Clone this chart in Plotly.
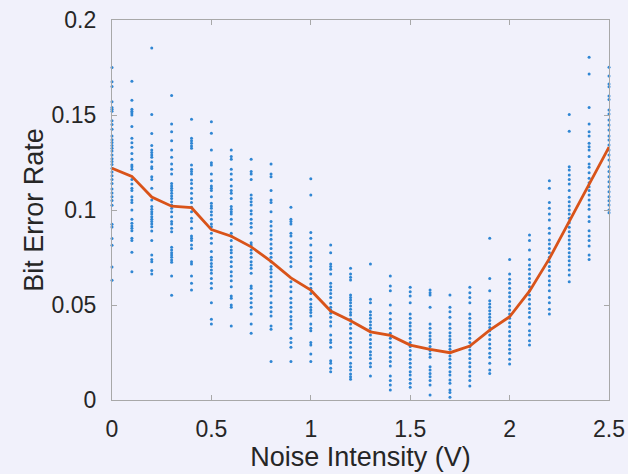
import plotly.graph_objects as go

# Noise levels (V) where the bit error rate was measured
noise_levels = [0.0, 0.1, 0.2, 0.3, 0.4, 0.5, 0.6, 0.7, 0.8, 0.9, 1.0, 1.1, 1.2,
                1.3, 1.4, 1.5, 1.6, 1.7, 1.8, 1.9, 2.0, 2.1, 2.2, 2.3, 2.4, 2.5]

# Individual trial BER values, one list per noise level
ber_00 = [0.175, 0.1675, 0.165, 0.157, 0.154, 0.153, 0.152, 0.147, 0.145, 0.1425, 0.139, 0.137,
          0.1355, 0.134, 0.1325, 0.131, 0.129, 0.127, 0.1255, 0.124, 0.122, 0.120, 0.118, 0.116,
          0.114, 0.111, 0.109, 0.107, 0.105, 0.1025, 0.0925, 0.091, 0.085, 0.0815, 0.070, 0.063]
ber_01 = [0.1677, 0.1577, 0.153, 0.152, 0.151, 0.150, 0.1439, 0.1377, 0.1354, 0.133, 0.1298,
          0.1267, 0.1237, 0.1228, 0.1214, 0.1161, 0.1137, 0.1114, 0.1102, 0.107, 0.1053, 0.1039,
          0.100, 0.0951, 0.093, 0.0916, 0.0904, 0.0891, 0.0851, 0.0839, 0.0777, 0.0675]
ber_02 = [0.1853, 0.1502, 0.1402, 0.1339, 0.1316, 0.1302, 0.1289, 0.1277, 0.1254, 0.1228, 0.1219,
          0.1175, 0.1161, 0.1114, 0.1053, 0.1018, 0.1004, 0.0991, 0.0979, 0.0965, 0.0951, 0.0939,
          0.0926, 0.0912, 0.0889, 0.0839, 0.0763, 0.074, 0.0728, 0.0681, 0.0663]
ber_03 = [0.1602, 0.1453, 0.1412, 0.1365, 0.1316, 0.1277, 0.1242, 0.1214, 0.1189, 0.114, 0.1126,
          0.1114, 0.1102, 0.1088, 0.1074, 0.1061, 0.1044, 0.1026, 0.1009, 0.0991, 0.0965, 0.0939,
          0.0926, 0.0904, 0.0886, 0.0804, 0.0789, 0.0775, 0.0763, 0.0751, 0.0737, 0.0725, 0.0653,
          0.0551]
ber_04 = [0.1477, 0.1377, 0.1365, 0.1351, 0.1337, 0.1325, 0.1237, 0.1214, 0.1202, 0.1189, 0.1158,
          0.114, 0.1114, 0.1088, 0.1061, 0.1039, 0.1014, 0.0991, 0.0956, 0.0939, 0.0904, 0.0863,
          0.0851, 0.0839, 0.0816, 0.0798, 0.0728, 0.0716, 0.0653, 0.0614, 0.0579]
ber_05 = [0.1465, 0.1404, 0.1316, 0.1249, 0.1237, 0.1189, 0.1154, 0.1126, 0.1114, 0.1102, 0.107,
          0.1035, 0.1021, 0.1009, 0.0991, 0.0974, 0.0951, 0.0926, 0.0912, 0.0877, 0.0851, 0.0825,
          0.0781, 0.0751, 0.0737, 0.0719, 0.0702, 0.0684, 0.0667, 0.064, 0.0614, 0.0588, 0.0512,
          0.0425, 0.040]
ber_06 = [0.1316, 0.1281, 0.1267, 0.1214, 0.1189, 0.1161, 0.1126, 0.1102, 0.1088, 0.1061, 0.1018,
          0.1004, 0.0991, 0.0979, 0.0951, 0.0926, 0.0877, 0.0863, 0.0839, 0.0807, 0.0789, 0.0775,
          0.0751, 0.0728, 0.0702, 0.0675, 0.0653, 0.0628, 0.0596, 0.0547, 0.0535, 0.050, 0.0488,
          0.0389]
ber_07 = [0.1267, 0.1202, 0.1189, 0.1161, 0.1079, 0.1061, 0.1044, 0.1026, 0.0996, 0.0979, 0.0951,
          0.093, 0.0909, 0.0877, 0.0828, 0.0816, 0.0789, 0.0772, 0.0751, 0.0728, 0.0711, 0.0693,
          0.0667, 0.060, 0.0588, 0.0561, 0.0535, 0.0512, 0.0488, 0.0453, 0.040, 0.0351]
ber_08 = [0.1242, 0.1189, 0.1175, 0.1102, 0.1053, 0.1039, 0.0991, 0.0939, 0.0916, 0.0891, 0.0868,
          0.0846, 0.0821, 0.0798, 0.0772, 0.0751, 0.0728, 0.0702, 0.0688, 0.067, 0.0649, 0.0623,
          0.060, 0.0575, 0.0547, 0.0512, 0.0488, 0.0465, 0.0442, 0.0389, 0.0372, 0.0202]
ber_09 = [0.1014, 0.0951, 0.0939, 0.0926, 0.0877, 0.0863, 0.0828, 0.0804, 0.0775, 0.0751, 0.0728,
          0.0702, 0.0623, 0.0596, 0.057, 0.0535, 0.0512, 0.0488, 0.0465, 0.0439, 0.0421, 0.040,
          0.0377, 0.0325, 0.0302, 0.0277, 0.0202]
ber_10 = [0.1165, 0.1079, 0.0881, 0.0851, 0.0816, 0.0775, 0.0751, 0.0733, 0.0702, 0.0663, 0.064,
          0.0611, 0.0588, 0.0561, 0.053, 0.0505, 0.0488, 0.0474, 0.046, 0.0442, 0.040, 0.0377,
          0.0365, 0.0302, 0.0289, 0.0242, 0.0202]
ber_11 = [0.0816, 0.0775, 0.0716, 0.0702, 0.0688, 0.0663, 0.0614, 0.0596, 0.0579, 0.0561, 0.054,
          0.0509, 0.0488, 0.0474, 0.0456, 0.0435, 0.0412, 0.0389, 0.0342, 0.0316, 0.0302, 0.0277,
          0.0207, 0.0193, 0.0167, 0.0149]
ber_12 = [0.0693, 0.0663, 0.0646, 0.0632, 0.0553, 0.054, 0.0526, 0.0512, 0.0495, 0.0477, 0.046,
          0.0447, 0.0425, 0.040, 0.0377, 0.0351, 0.0325, 0.0302, 0.0277, 0.0249, 0.0225, 0.0193,
          0.0175, 0.0158, 0.0137, 0.0123, 0.0109]
ber_13 = [0.0716, 0.053, 0.0512, 0.0465, 0.0447, 0.043, 0.0412, 0.0395, 0.0377, 0.036, 0.0342,
          0.0319, 0.0298, 0.0277, 0.0254, 0.0237, 0.0219, 0.0193, 0.0175, 0.0126]
ber_14 = [0.0653, 0.060, 0.0575, 0.050, 0.0456, 0.0425, 0.040, 0.0377, 0.0351, 0.0325, 0.0302,
          0.0277, 0.0249, 0.0225, 0.0202, 0.0179, 0.0126, 0.0102, 0.0079, 0.0053]
ber_15 = [0.0593, 0.057, 0.0547, 0.0512, 0.0453, 0.043, 0.0407, 0.0389, 0.0368, 0.0347, 0.0325,
          0.0302, 0.0281, 0.026, 0.0237, 0.0214, 0.0193, 0.0172, 0.0149, 0.0132, 0.0109, 0.0088,
          0.0067]
ber_16 = [0.0579, 0.0565, 0.0553, 0.0488, 0.040, 0.0377, 0.0354, 0.0337, 0.0319, 0.0302, 0.0281,
          0.026, 0.0242, 0.0225, 0.0175, 0.0158, 0.014, 0.0123, 0.0102, 0.0079, 0.0026]
ber_17 = [0.0553, 0.0488, 0.0465, 0.0435, 0.040, 0.0377, 0.0354, 0.0337, 0.0319, 0.0302, 0.0284,
          0.0267, 0.0249, 0.0232, 0.0214, 0.0193, 0.0172, 0.0149, 0.0132, 0.0105, 0.0088, 0.0053,
          0.0039, 0.0014]
ber_18 = [0.0593, 0.0565, 0.054, 0.0512, 0.0453, 0.043, 0.0407, 0.0389, 0.0368, 0.0347, 0.0325,
          0.0302, 0.0281, 0.0263, 0.0242, 0.0219, 0.0196, 0.0175, 0.0149, 0.0126, 0.0102, 0.0074]
ber_19 = [0.0851, 0.064, 0.0575, 0.0523, 0.0505, 0.0488, 0.047, 0.0453, 0.0435, 0.0418, 0.040,
          0.0382, 0.0365, 0.0342, 0.0319, 0.0295, 0.0272, 0.0246, 0.0225, 0.0193, 0.0158, 0.014]
ber_20 = [0.074, 0.0663, 0.0635, 0.0614, 0.0588, 0.0565, 0.0544, 0.0518, 0.0495, 0.0474, 0.0453,
          0.043, 0.0407, 0.0386, 0.036, 0.0337, 0.0312, 0.0289, 0.0267, 0.0246, 0.0214, 0.0189]
ber_21 = [0.0868, 0.0839, 0.0789, 0.074, 0.0711, 0.0688, 0.0663, 0.064, 0.0618, 0.0596, 0.0575,
          0.0553, 0.053, 0.0505, 0.0482, 0.046, 0.0435, 0.040, 0.0365, 0.0342, 0.0312, 0.0289]
ber_22 = [0.1154, 0.1114, 0.1039, 0.1009, 0.0979, 0.0947, 0.0904, 0.0877, 0.0842, 0.0821, 0.0798,
          0.0775, 0.0751, 0.0728, 0.0702, 0.0681, 0.0653, 0.0628, 0.0605, 0.0575, 0.054, 0.0512,
          0.0477, 0.0453]
ber_23 = [0.1502, 0.1414, 0.1228, 0.1211, 0.1184, 0.1161, 0.1137, 0.1102, 0.1067, 0.1044, 0.1021,
          0.100, 0.0979, 0.0956, 0.0933, 0.0909, 0.0886, 0.0863, 0.0842, 0.0821, 0.0798, 0.0775,
          0.0754, 0.0733, 0.0711, 0.0684, 0.0658, 0.0623]
ber_24 = [0.1804, 0.1716, 0.154, 0.1453, 0.1412, 0.1389, 0.1351, 0.1333, 0.1316, 0.1281, 0.1242,
          0.1225, 0.1196, 0.1167, 0.1144, 0.1123, 0.1102, 0.1079, 0.1053, 0.1026, 0.1004, 0.0965,
          0.0939, 0.0891, 0.0863, 0.0839, 0.0811, 0.0763, 0.074]
ber_25 = [0.1751, 0.1705, 0.1663, 0.1649, 0.160, 0.1582, 0.1526, 0.1505, 0.1474, 0.1447, 0.1421,
          0.1389, 0.1368, 0.1342, 0.1316, 0.1289, 0.1263, 0.1228, 0.1202, 0.1175, 0.1149, 0.1123,
          0.1096, 0.107, 0.1049, 0.1026, 0.100, 0.0986]

trials = [ber_00, ber_01, ber_02, ber_03, ber_04, ber_05, ber_06, ber_07, ber_08, ber_09,
          ber_10, ber_11, ber_12, ber_13, ber_14, ber_15, ber_16, ber_17, ber_18, ber_19,
          ber_20, ber_21, ber_22, ber_23, ber_24, ber_25]

# Average BER curve
ber_mean = [0.122, 0.1177, 0.1068, 0.102, 0.1012, 0.0897, 0.0862, 0.0806, 0.073, 0.0643,
            0.0578, 0.0468, 0.0417, 0.0359, 0.034, 0.0289, 0.0266, 0.0249, 0.0284, 0.0368,
            0.0438, 0.0573, 0.0744, 0.0937, 0.1135, 0.1331]

x_ticks = [0, 0.5, 1, 1.5, 2, 2.5]
x_labels = ['0', '0.5', '1', '1.5', '2', '2.5']
y_ticks = [0, 0.05, 0.1, 0.15, 0.2]
y_labels = ['0', '0.05', '0.1', '0.15', '0.2']

scatter_x = []
scatter_y = []
for level, vals in zip(noise_levels, trials):
    scatter_x += [level] * len(vals)
    scatter_y += vals

bg = '#F1F1FB'
font_color = '#262626'

fig = go.Figure()
fig.add_trace(go.Scatter(x=scatter_x, y=scatter_y, mode='markers',
                         marker=dict(size=3, color='#2F86D3', line=dict(width=0)),
                         showlegend=False, cliponaxis=False))
fig.add_trace(go.Scatter(x=noise_levels, y=ber_mean, mode='lines',
                         line=dict(color='#D95319', width=2.8),
                         showlegend=False))

axis_common = dict(showgrid=False, zeroline=False, showline=True, linecolor='#A8A8A8',
                   linewidth=1.2, mirror='ticks', ticks='inside', ticklen=5,
                   tickcolor='#A8A8A8', tickwidth=1, automargin=False,
                   tickfont=dict(family='Liberation Sans', size=23, color=font_color))

fig.update_xaxes(range=[0, 2.5], tickvals=x_ticks, ticktext=x_labels,
                 ticklabelstandoff=8,
                 title=dict(text='Noise Intensity (V)', standoff=6,
                            font=dict(family='Liberation Sans', size=27, color=font_color)),
                 **axis_common)
fig.update_yaxes(range=[0, 0.2], tickvals=y_ticks, ticktext=y_labels,
                 ticklabelstandoff=10,
                 title=dict(text='Bit Error Rate', standoff=0,
                            font=dict(family='Liberation Sans', size=27, color=font_color)),
                 **axis_common)

fig.update_layout(width=628, height=474, margin=dict(l=112, r=19, t=20, b=74),
                  paper_bgcolor=bg, plot_bgcolor=bg)

# drop the default page margin so the figure fills the window
fig.write_html("out.html", config={'displayModeBar': False},
               post_script="document.body.style.margin='0';"
                           "document.body.style.background='%s';" % bg)
